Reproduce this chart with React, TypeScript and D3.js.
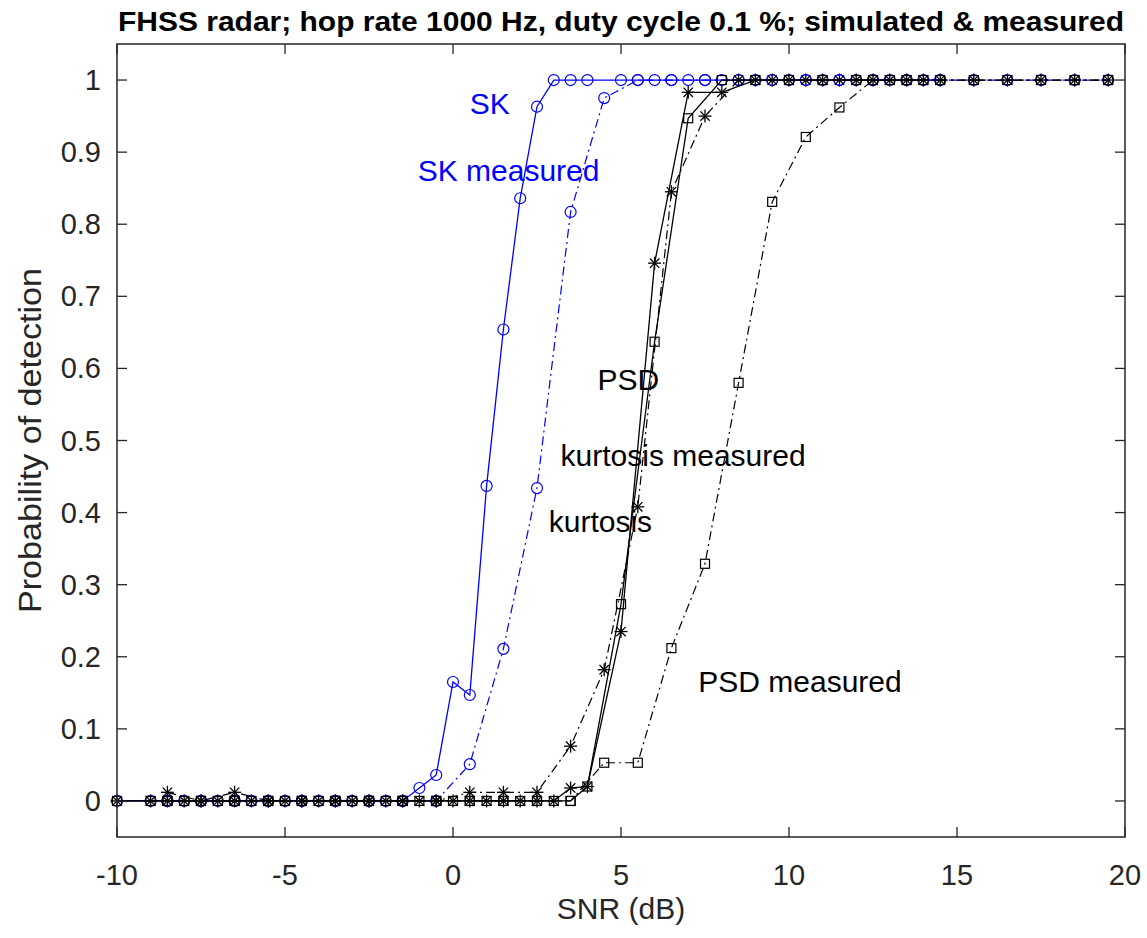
import React from "react";
import * as d3 from "d3";

// ---------- data ----------
const skSimX = [-10, -9, -8.5, -8, -7.5, -7, -6.5, -6, -5.5, -5, -4.5, -4, -3.5, -3, -2.5, -2, -1.5, -1, -0.5, 0, 0.5, 1, 1.5, 2, 2.5, 3, 3.5, 4, 5, 5.5, 6, 6.5, 7, 7.5, 8, 8.5, 9, 9.5, 10, 10.5, 11, 11.5, 12, 12.5, 13, 13.5, 14, 14.5];
const skSimY = [0, 0, 0, 0, 0, 0, 0, 0, 0, 0, 0, 0, 0, 0, 0, 0, 0, 0.018, 0.036, 0.165, 0.147, 0.437, 0.654, 0.836, 0.963, 1, 1, 1, 1, 1, 1, 1, 1, 1, 1, 1, 1, 1, 1, 1, 1, 1, 1, 1, 1, 1, 1, 1];

const simX = [-10, -9, -8.5, -8, -7.5, -7, -6.5, -6, -5.5, -5, -4.5, -4, -3.5, -3, -2.5, -2, -1.5, -1, -0.5, 0, 0.5, 1, 1.5, 2, 2.5, 3, 3.5, 4, 5, 6, 7, 8, 9, 10, 11, 12, 13, 14];
const kurtSimY = [0, 0, 0, 0, 0, 0, 0, 0, 0, 0, 0, 0, 0, 0, 0, 0, 0, 0, 0, 0, 0, 0, 0, 0, 0, 0, 0.018, 0.02, 0.235, 0.746, 0.983, 0.983, 1, 1, 1, 1, 1, 1];
const psdSimY = [0, 0, 0, 0, 0, 0, 0, 0, 0, 0, 0, 0, 0, 0, 0, 0, 0, 0, 0, 0, 0, 0, 0, 0, 0, 0, 0, 0.02, 0.273, 0.637, 0.947, 1, 1, 1, 1, 1, 1, 1];

const measX = [-8.5, -7.5, -6.5, -5.5, -4.5, -3.5, -2.5, -1.5, -0.5, 0.5, 1.5, 2.5, 3.5, 4.5, 5.5, 6.5, 7.5, 8.5, 9.5, 10.5, 11.5, 12.5, 13.5, 14.5, 15.5, 16.5, 17.5, 18.5, 19.5];
const skMeasY = [0, 0, 0, 0, 0, 0, 0, 0, 0, 0.051, 0.211, 0.434, 0.817, 0.975, 1, 1, 1, 1, 1, 1, 1, 1, 1, 1, 1, 1, 1, 1, 1];
const kurtMeasY = [0.012, 0, 0.012, 0, 0, 0, 0, 0, 0, 0.012, 0.012, 0.012, 0.076, 0.182, 0.408, 0.845, 0.95, 1, 1, 1, 1, 1, 1, 1, 1, 1, 1, 1, 1];
const psdMeasY = [0, 0, 0, 0, 0, 0, 0, 0, 0, 0, 0, 0, 0, 0.053, 0.053, 0.212, 0.329, 0.58, 0.831, 0.921, 0.962, 1, 1, 1, 1, 1, 1, 1, 1];

const xTicks = [-10, -5, 0, 5, 10, 15, 20];
const yTicks = [0, 0.1, 0.2, 0.3, 0.4, 0.5, 0.6, 0.7, 0.8, 0.9, 1];

const labels = [
  { text: "SK", x: 0.5, y: 0.953, color: "#0000ff" },
  { text: "SK measured", x: -1.05, y: 0.86, color: "#0000ff" },
  { text: "PSD", x: 4.3, y: 0.57, color: "#000" },
  { text: "kurtosis measured", x: 3.2, y: 0.464, color: "#000" },
  { text: "kurtosis", x: 2.85, y: 0.373, color: "#000" },
  { text: "PSD measured", x: 7.3, y: 0.151, color: "#000" },
];

// ---------- layout ----------
const W = 1147, H = 938;
const L = 117, R = 1125, T = 44, B = 837;
const FONT = "'Liberation Sans', Arial, Helvetica, sans-serif";
const FS = 29;

const x = d3.scaleLinear().domain([-10, 20]).range([L, R]);
const y = d3.scaleLinear().domain([-0.05, 1.05]).range([B, T]);

type Pt = [number, number];
const zip = (xs: number[], ys: number[]): Pt[] => xs.map((v, i) => [v, ys[i]]);
const line = d3.line<Pt>().x(d => x(d[0])).y(d => y(d[1]));

const DASHDOT = "9,4,2,4";

function Circles({ pts, color }: { pts: Pt[]; color: string }) {
  return <g>{pts.map((p, i) => <circle key={i} cx={x(p[0])} cy={y(p[1])} r={5.5} fill="none" stroke={color} strokeWidth={1.2} />)}</g>;
}
function Squares({ pts }: { pts: Pt[] }) {
  const s = 9;
  return <g>{pts.map((p, i) => <rect key={i} x={x(p[0]) - s / 2} y={y(p[1]) - s / 2} width={s} height={s} fill="none" stroke="#000" strokeWidth={1.2} />)}</g>;
}
function Stars({ pts }: { pts: Pt[] }) {
  const r = 6.5, d = r * 0.72;
  return (
    <g stroke="#000" strokeWidth={1.3}>
      {pts.map((p, i) => {
        const cx = x(p[0]), cy = y(p[1]);
        return (
          <g key={i}>
            <line x1={cx - r} y1={cy} x2={cx + r} y2={cy} />
            <line x1={cx} y1={cy - r} x2={cx} y2={cy + r} />
            <line x1={cx - d} y1={cy - d} x2={cx + d} y2={cy + d} />
            <line x1={cx - d} y1={cy + d} x2={cx + d} y2={cy - d} />
          </g>
        );
      })}
    </g>
  );
}

export default function App() {
  const skSim = zip(skSimX, skSimY);
  const skMeas = zip(measX, skMeasY);
  const kurtSim = zip(simX, kurtSimY);
  const psdSim = zip(simX, psdSimY);
  const kurtMeas = zip(measX, kurtMeasY);
  const psdMeas = zip(measX, psdMeasY);
  const tl = 10;
  return (
    <svg width={W} height={H} style={{ position: "absolute", left: 0, top: 0, background: "#fff" }} fontFamily={FONT}>
      <rect x={0} y={0} width={W} height={H} fill="#fff" />
      {/* title */}
      <text x={(L + R) / 2} y={31} textAnchor="middle" fontSize={27} fontWeight="bold" textLength={1006} lengthAdjust="spacingAndGlyphs">
        FHSS radar; hop rate 1000 Hz, duty cycle 0.1 %; simulated &amp; measured
      </text>

      {/* series: blue first */}
      <path d={line(skMeas) || ""} fill="none" stroke="#0000ff" strokeWidth={1.2} strokeDasharray={DASHDOT} />
      <path d={line(skSim) || ""} fill="none" stroke="#0000ff" strokeWidth={1.3} />
      <Circles pts={skMeas} color="#0000ff" />
      <Circles pts={skSim} color="#0000ff" />

      <path d={line(psdMeas) || ""} fill="none" stroke="#000" strokeWidth={1.2} strokeDasharray={DASHDOT} />
      <path d={line(kurtMeas) || ""} fill="none" stroke="#000" strokeWidth={1.2} strokeDasharray={DASHDOT} />
      <path d={line(psdSim) || ""} fill="none" stroke="#000" strokeWidth={1.3} />
      <path d={line(kurtSim) || ""} fill="none" stroke="#000" strokeWidth={1.3} />
      <Squares pts={psdMeas} />
      <Squares pts={psdSim} />
      <Stars pts={kurtMeas} />
      <Stars pts={kurtSim} />

      {/* axes box */}
      <rect x={L} y={T} width={R - L} height={B - T} fill="none" stroke="#262626" strokeWidth={1.5} />
      {xTicks.map(t => (
        <g key={"x" + t}>
          <line x1={x(t)} x2={x(t)} y1={B} y2={B - tl} stroke="#262626" strokeWidth={1.3} />
          <line x1={x(t)} x2={x(t)} y1={T} y2={T + tl} stroke="#262626" strokeWidth={1.3} />
          <text x={x(t)} y={B + 48} textAnchor="middle" fontSize={FS} fill="#262626">{t}</text>
        </g>
      ))}
      {yTicks.map(t => (
        <g key={"y" + t}>
          <line x1={L} x2={L + tl} y1={y(t)} y2={y(t)} stroke="#262626" strokeWidth={1.3} />
          <line x1={R} x2={R - tl} y1={y(t)} y2={y(t)} stroke="#262626" strokeWidth={1.3} />
          <text x={L - 16} y={y(t) + 10} textAnchor="end" fontSize={FS} fill="#262626">{d3.format("~g")(t)}</text>
        </g>
      ))}
      <text x={(L + R) / 2} y={919} textAnchor="middle" fontSize={30} fill="#262626">SNR (dB)</text>
      <text transform={`translate(41, ${(T + B) / 2}) rotate(-90)`} textAnchor="middle" fontSize={31} textLength={345} lengthAdjust="spacingAndGlyphs" fill="#262626">Probability of detection</text>

      {labels.map(l => (
        <text key={l.text} x={x(l.x)} y={y(l.y)} textAnchor="start" fontSize={30} fill={l.color}>{l.text}</text>
      ))}
    </svg>
  );
}
